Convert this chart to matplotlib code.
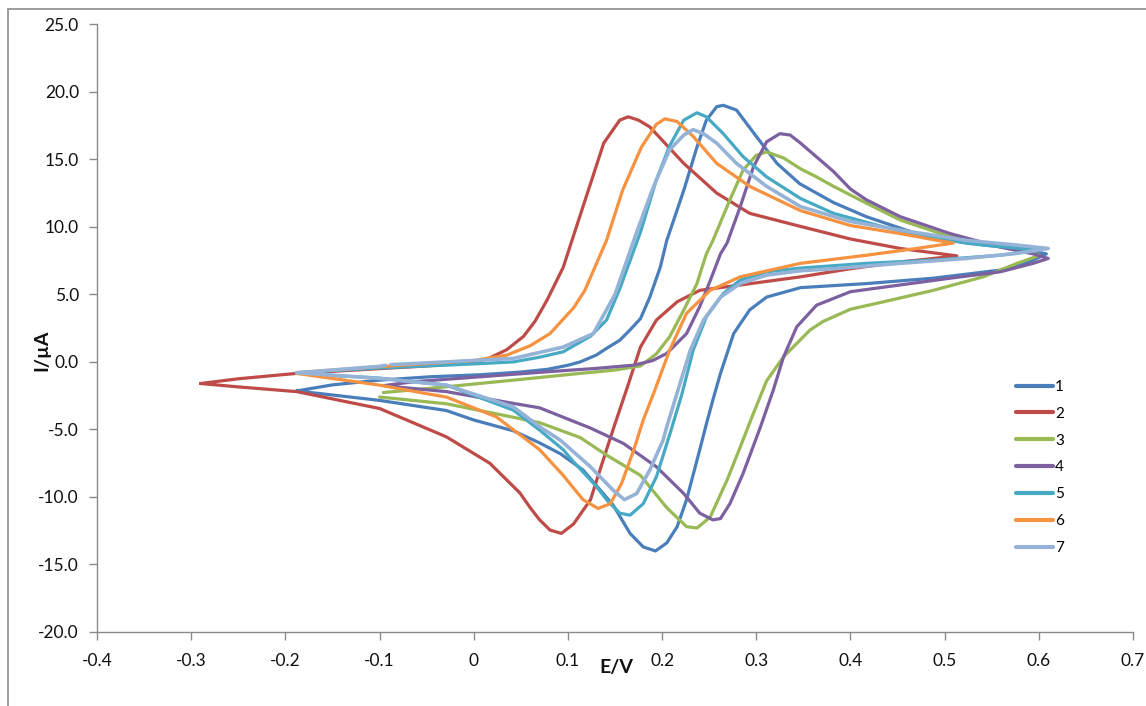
import matplotlib
matplotlib.use("Agg")
from matplotlib import pyplot as plt
from matplotlib.patches import Rectangle

plt.rcParams['font.family'] = ['Lato', 'DejaVu Sans']

# potential (V) and current (uA), forward then reverse sweep
e1 = [-0.188, -0.150, -0.100, -0.046, 0.007, 0.050, 0.078, 0.100, 0.113, 0.130, 0.141, 0.155, 0.165, 0.177, 0.187, 0.198,
      0.205, 0.223, 0.237, 0.247, 0.258, 0.265, 0.279, 0.300, 0.322, 0.346, 0.382, 0.417, 0.470, 0.523, 0.577, 0.608,
      0.590, 0.559, 0.488, 0.417, 0.347, 0.311, 0.293, 0.276, 0.262, 0.254, 0.247, 0.240, 0.226, 0.216, 0.205, 0.193,
      0.180, 0.166, 0.148, 0.116, 0.092, 0.070, 0.042, 0.000, -0.029, -0.100, -0.150, -0.188]
i1 = [-2.15, -1.7, -1.35, -1.1, -0.95, -0.75, -0.55, -0.25, 0.0, 0.5, 1.0, 1.6, 2.3, 3.2, 4.8, 7.0,
      9.0, 12.7, 15.9, 17.9, 18.9, 19.0, 18.65, 16.7, 14.7, 13.2, 11.8, 10.75, 9.5, 8.8, 8.4, 8.0,
      7.4, 6.8, 6.2, 5.8, 5.5, 4.8, 3.85, 2.1, -0.85, -2.8, -4.6, -6.5, -10.2, -12.2, -13.4, -14.0,
      -13.7, -12.7, -10.6, -8.0, -6.8, -6.0, -5.1, -4.3, -3.6, -2.85, -2.45, -2.15]

e2 = [-0.290, -0.250, -0.188, -0.100, -0.050, 0.000, 0.017, 0.035, 0.053, 0.065, 0.078, 0.095, 0.109, 0.124, 0.138,
      0.155, 0.164, 0.175, 0.187, 0.223, 0.258, 0.293, 0.346, 0.400, 0.453, 0.513,
      0.480, 0.453, 0.400, 0.347, 0.294, 0.240, 0.216, 0.194, 0.177, 0.163, 0.148, 0.135, 0.124, 0.106, 0.093,
      0.081, 0.070, 0.060, 0.049, 0.017, -0.029, -0.100, -0.188, -0.250, -0.290]
i2 = [-1.6, -1.25, -0.85, -0.5, -0.3, -0.05, 0.3, 0.9, 1.9, 3.0, 4.6, 7.0, 10.0, 13.2, 16.2,
      17.9, 18.15, 17.9, 17.4, 14.7, 12.5, 11.0, 10.05, 9.1, 8.4, 7.85,
      7.6, 7.4, 6.9, 6.3, 5.8, 5.3, 4.45, 3.1, 1.1, -1.9, -5.0, -7.8, -10.2, -12.0, -12.7,
      -12.45, -11.7, -10.8, -9.7, -7.5, -5.55, -3.45, -2.2, -1.85, -1.6]

e3 = [-0.096, -0.029, 0.042, 0.113, 0.150, 0.177, 0.194, 0.208, 0.223, 0.237, 0.247, 0.254, 0.272, 0.286, 0.300,
      0.311, 0.329, 0.347, 0.364, 0.382, 0.417, 0.453, 0.506, 0.559, 0.594, 0.601,
      0.577, 0.541, 0.488, 0.435, 0.400, 0.371, 0.357, 0.329, 0.311, 0.297, 0.283, 0.269, 0.251, 0.237, 0.226,
      0.205, 0.177, 0.141, 0.113, 0.070, 0.042, -0.029, -0.100]
i3 = [-2.27, -1.84, -1.35, -0.85, -0.6, -0.3, 0.6, 1.86, 3.84, 5.8, 8.0, 9.0, 12.0, 14.2, 15.3,
      15.55, 15.1, 14.3, 13.7, 13.0, 11.75, 10.5, 9.27, 8.53, 8.04, 7.9,
      7.3, 6.3, 5.3, 4.45, 3.9, 3.0, 2.36, 0.38, -1.4, -3.8, -6.3, -8.75, -11.5, -12.3, -12.2,
      -10.8, -8.4, -6.9, -5.6, -4.5, -4.1, -3.1, -2.6]

e4 = [-0.095, -0.064, 0.007, 0.078, 0.130, 0.170, 0.190, 0.205, 0.226, 0.240, 0.251, 0.262, 0.269, 0.283, 0.297,
      0.311, 0.325, 0.336, 0.347, 0.357, 0.382, 0.400, 0.417, 0.453, 0.506, 0.559, 0.594, 0.610,
      0.594, 0.559, 0.506, 0.453, 0.400, 0.364, 0.343, 0.329, 0.318, 0.304, 0.286, 0.272, 0.262, 0.254, 0.240,
      0.223, 0.194, 0.159, 0.124, 0.070, 0.042, -0.029, -0.090]
i4 = [-1.75, -1.47, -1.1, -0.73, -0.48, -0.24, 0.1, 0.63, 2.1, 4.1, 6.0, 8.0, 8.8, 11.5, 14.45,
      16.3, 16.9, 16.8, 16.2, 15.6, 14.1, 12.8, 12.0, 10.75, 9.5, 8.5, 8.0, 7.66,
      7.3, 6.67, 6.2, 5.7, 5.2, 4.2, 2.6, 0.38, -2.1, -4.9, -8.26, -10.5, -11.6, -11.7, -11.2,
      -9.75, -7.77, -6.04, -4.9, -3.4, -3.07, -2.2, -1.8]

e5 = [-0.188, -0.100, 0.000, 0.042, 0.070, 0.095, 0.124, 0.141, 0.155, 0.177, 0.194, 0.208, 0.223, 0.237, 0.247,
      0.265, 0.286, 0.311, 0.347, 0.382, 0.435, 0.488, 0.541, 0.600,
      0.559, 0.488, 0.417, 0.347, 0.311, 0.283, 0.265, 0.247, 0.233, 0.221, 0.208, 0.194, 0.180, 0.166, 0.155,
      0.141, 0.130, 0.106, 0.095, 0.070, 0.042, -0.029, -0.100, -0.188]
i5 = [-0.8, -0.45, -0.15, 0.0, 0.35, 0.75, 1.9, 3.1, 5.4, 9.6, 13.5, 16.0, 17.9, 18.45, 18.15,
      16.9, 15.2, 13.7, 12.1, 11.0, 10.0, 9.15, 8.65, 8.28,
      7.9, 7.54, 7.3, 6.95, 6.67, 6.06, 5.07, 3.34, 0.87, -2.4, -5.4, -8.5, -10.5, -11.35, -11.2,
      -10.2, -9.2, -7.4, -6.5, -5.05, -3.57, -1.72, -1.2, -0.85]

e6 = [-0.188, -0.100, 0.000, 0.035, 0.060, 0.081, 0.106, 0.118, 0.141, 0.158, 0.178, 0.194, 0.203, 0.216, 0.233,
      0.258, 0.293, 0.347, 0.400, 0.453, 0.488, 0.509,
      0.470, 0.417, 0.347, 0.283, 0.251, 0.226, 0.208, 0.191, 0.180, 0.170, 0.157, 0.145, 0.132, 0.116, 0.095,
      0.070, 0.024, -0.029, -0.046, -0.100, -0.188]
i6 = [-0.8, -0.35, 0.1, 0.5, 1.2, 2.1, 4.0, 5.3, 9.0, 12.7, 15.9, 17.6, 18.0, 17.8, 16.7,
      14.7, 13.0, 11.2, 10.1, 9.5, 9.05, 8.8,
      8.4, 7.9, 7.3, 6.3, 5.3, 3.6, 0.87, -2.33, -4.3, -6.5, -9.0, -10.5, -10.85, -10.2, -8.4,
      -6.5, -4.07, -2.6, -2.4, -1.72, -0.85]

e7 = [-0.088, -0.029, 0.042, 0.095, 0.127, 0.150, 0.173, 0.191, 0.208, 0.223, 0.233, 0.244, 0.258, 0.279, 0.311,
      0.347, 0.400, 0.453, 0.523, 0.577, 0.610,
      0.577, 0.523, 0.453, 0.382, 0.347, 0.311, 0.283, 0.262, 0.244, 0.230, 0.219, 0.205, 0.201, 0.187, 0.173,
      0.160, 0.148, 0.124, 0.092, 0.070, 0.042, -0.029, -0.100, -0.188, -0.150, -0.100, -0.094]
i7 = [-0.2, 0.0, 0.26, 1.1, 2.1, 5.0, 9.6, 13.0, 15.7, 16.8, 17.2, 16.9, 16.2, 14.7, 13.0,
      11.5, 10.4, 9.76, 9.0, 8.65, 8.4,
      8.04, 7.66, 7.3, 6.9, 6.75, 6.43, 5.8, 4.8, 3.1, 0.87, -1.6, -4.8, -5.8, -8.0, -9.75,
      -10.2, -9.5, -7.77, -5.8, -4.8, -3.33, -1.72, -1.22, -0.8, -0.6, -0.33, -0.25]

labels = ['1', '2', '3', '4', '5', '6', '7']
colors = ['#4a7ebb', '#be4b48', '#98b954', '#7d60a0', '#46aac5', '#f69240', '#95b3d7']

xticks = [-0.4, -0.3, -0.2, -0.1, 0.0, 0.1, 0.2, 0.3, 0.4, 0.5, 0.6, 0.7]
xtick_labels = ['-0.4', '-0.3', '-0.2', '-0.1', '0', '0.1', '0.2', '0.3', '0.4', '0.5', '0.6', '0.7']
yticks = [-20, -15, -10, -5, 0, 5, 10, 15, 20, 25]

W, H = 1146, 706
fig = plt.figure(figsize=(W / 100, H / 100), dpi=100)
ax = fig.add_axes([97 / W, 1 - 632 / H, (1133 - 97) / W, (632 - 24.3) / H])

curves = [(e1, i1), (e2, i2), (e3, i3), (e4, i4), (e5, i5), (e6, i6), (e7, i7)]
for k, (e, i) in enumerate(curves):
    lw = 2.6 if k == 6 else 2.3
    ax.plot(e, i, color=colors[k], lw=lw, label=labels[k], solid_capstyle='round', solid_joinstyle='round')

ax.set_xlim(-0.4, 0.7)
ax.set_ylim(-20, 25)
ax.set_xticks(xticks)
ax.set_xticklabels(xtick_labels)
ax.set_yticks(yticks)
ax.set_yticklabels(['%.1f' % v for v in yticks])

for s in ['top', 'right']:
    ax.spines[s].set_visible(False)
for s in ['left', 'bottom']:
    ax.spines[s].set_color('#8a8a8a')
    ax.spines[s].set_linewidth(1.0)
ax.tick_params(direction='out', length=6, width=1, color='#8a8a8a', labelsize=12.5, labelcolor='#111111')
ax.tick_params(axis='y', pad=7)
ax.tick_params(axis='x', pad=9)

fig.text(42 / W, 1 - 350 / H, 'I/µA', rotation=90, ha='center', va='center',
         fontsize=14, fontweight='bold', color='#111111')
fig.text(616 / W, 1 - 668 / H, 'E/V', ha='center', va='center',
         fontsize=14, fontweight='bold', color='#111111')

leg = ax.legend(loc='upper left', bbox_to_anchor=(1016 / W, 1 - 380 / H), bbox_transform=fig.transFigure,
                frameon=False, fontsize=11, handlelength=2.4, handletextpad=0.15, labelspacing=0.84,
                borderpad=0, borderaxespad=0)
for line in leg.get_lines():
    line.set_linewidth(3)

fig.patches.append(Rectangle((8 / W, -0.1), 1.5, 1.1 - 9 / H, transform=fig.transFigure,
                             fill=False, ec='#8c8c8c', lw=1.2))

fig.savefig('out.png', dpi=100, facecolor='white')
